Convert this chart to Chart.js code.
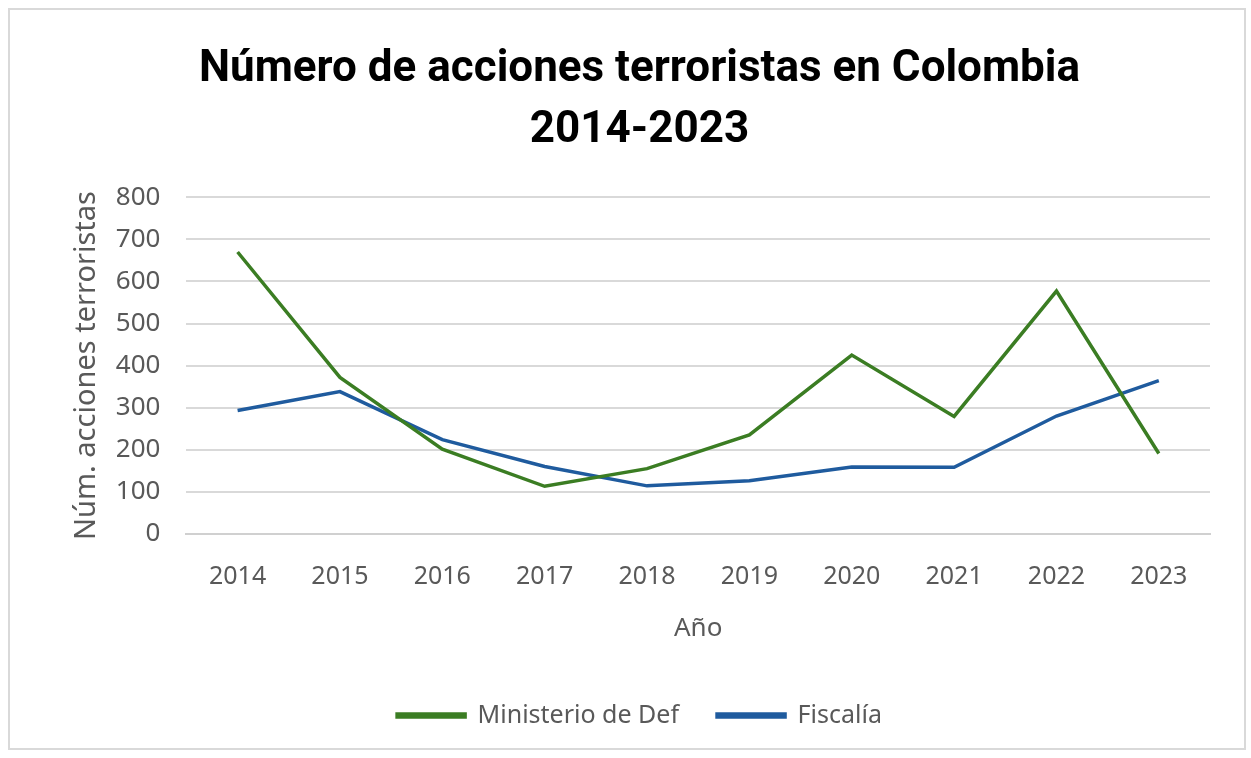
<!DOCTYPE html>
<html>
<head>
<meta charset="utf-8">
<script src="https://cdn.jsdelivr.net/npm/chart.js@4.4.1/dist/chart.umd.min.js"></script>
<style>
  html, body { margin: 0; padding: 0; background: #fff; }
  #wrap { position: absolute; left: 0; top: 0; width: 1251px; height: 758px; }
  #frame { position: absolute; left: 8px; top: 8px; width: 1238px; height: 742px;
           border: 2px solid #d9d9d9; box-sizing: border-box; pointer-events: none; }
</style>
</head>
<body>
<div id="wrap">
  <canvas id="chart" width="1251" height="758"></canvas>
  <div id="frame"></div>
</div>
<script>
var years = ["2014", "2015", "2016", "2017", "2018", "2019", "2020", "2021", "2022", "2023"];
var ministerio = [670, 372, 201, 113, 155, 235, 425, 279, 577, 191];
var fiscalia = [293, 338, 224, 160, 114, 126, 159, 158, 280, 364];
var yTicks = [0, 100, 200, 300, 400, 500, 600, 700, 800];

var gray = "#595959";

var ctx = document.getElementById("chart").getContext("2d");
var chart = new Chart(ctx, {
    type: "line",
    data: {
        labels: years,
        datasets: [
            {
                label: "Ministerio de Def",
                data: ministerio,
                borderColor: "#3b7d23",
                backgroundColor: "#3b7d23",
                borderWidth: 3.5,
                pointRadius: 0,
                tension: 0,
            },
            {
                label: "Fiscalía",
                data: fiscalia,
                borderColor: "#1f5b9e",
                backgroundColor: "#1f5b9e",
                borderWidth: 3.5,
                pointRadius: 0,
                tension: 0,
            },
        ],
    },
    options: {
        responsive: false,
        animation: false,
        layout: {
            padding: { left: 69, right: 41, top: 39, bottom: 20 },
        },
        plugins: {
            title: {
                display: true,
                text: ["Número de acciones terroristas en Colombia", "2014-2023"],
                color: "#000",
                font: { family: "Roboto", size: 44, weight: "bold", lineHeight: 1.39 },
                padding: { top: 0, bottom: 36 },
            },
            legend: {
                position: "bottom",
                labels: {
                    color: gray,
                    font: { family: "Noto Sans", size: 25 },
                    boxWidth: 68,
                    boxHeight: 3,
                    padding: 38,
                },
            },
            tooltip: { enabled: false },
        },
        scales: {
            x: {
                offset: true,
                grid: { display: false },
                border: { color: "#d0d0d0", width: 2 },
                ticks: {
                    color: gray,
                    font: { family: "Noto Sans", size: 25 },
                    padding: 20,
                },
                title: {
                    display: true,
                    text: "Año",
                    color: gray,
                    font: { family: "Noto Sans", size: 26 },
                    padding: { top: 1, bottom: 21 },
                },
            },
            y: {
                min: 0,
                max: 800,
                afterBuildTicks: function (axis) {
                    axis.ticks = yTicks.map(function (v) { return { value: v }; });
                },
                grid: { color: "#d9d9d9", lineWidth: 2, drawTicks: false },
                border: { display: false },
                ticks: {
                    color: gray,
                    font: { family: "Noto Sans", size: 26 },
                    padding: 26,
                },
                title: {
                    display: true,
                    text: "Núm. acciones terroristas",
                    color: gray,
                    font: { family: "Noto Sans", size: 29 },
                    padding: { top: 0, bottom: -14 },
                },
            },
        },
    },
});
</script>
</body>
</html>
